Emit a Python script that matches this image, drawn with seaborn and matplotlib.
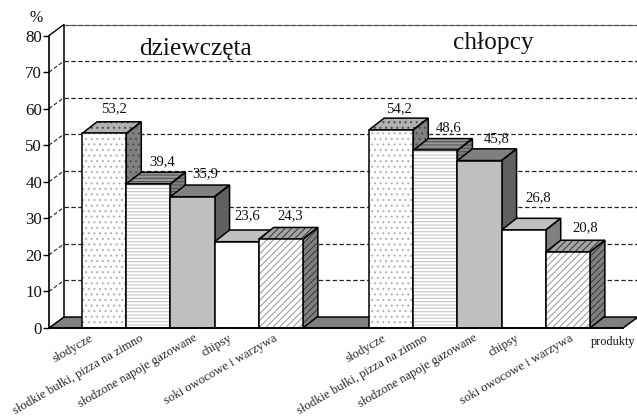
import pandas as pd
import matplotlib
matplotlib.use('Agg')
import matplotlib.pyplot as plt
from matplotlib.patches import Polygon, Rectangle
import seaborn as sns

# data
products = ['słodycze', 'słodkie bułki, pizza na zimno', 'słodzone napoje gazowane',
            'chipsy', 'soki owocowe i warzywa']
girls = [53.2, 39.4, 35.9, 23.6, 24.3]
boys = [54.2, 48.6, 45.8, 26.8, 20.8]
y_ticks = [0, 10, 20, 30, 40, 50, 60, 70, 80]
girls_x = [0, 1, 2, 3, 4]
boys_x = [6.5, 7.5, 8.5, 9.5, 10.5]

W, H = 637, 416
sns.set_theme(style='white')
plt.rcParams['font.family'] = ['Liberation Serif', 'DejaVu Serif']
plt.rcParams['hatch.linewidth'] = 0.8

df = pd.DataFrame({'x': girls_x + boys_x, 'value': girls + boys})

fig = plt.figure(figsize=(W / 100, H / 100), dpi=100, facecolor='white')
ax = fig.add_axes([49 / W, 1 - 328 / H, 574 / W, 292.5 / H])
sns.barplot(data=df, x='x', y='value', native_scale=True, width=1, color='white', ax=ax)
bars = list(ax.patches)

xmin, xmax = -1.25, 11.75
ax.set_xlim(xmin, xmax)
ax.set_ylim(0, 80)
ax.set_xlabel('')
ax.set_ylabel('')

# depth of the fake 3d, in data units
dx = 15 / 44.15
dy = 3.0
bar_dy = 3.2

# floor and back wall
ax.add_patch(Polygon([(xmin, 0), (xmax, 0), (xmax + dx, dy), (xmin + dx, dy)], closed=True,
                     facecolor='#7f7f7f', edgecolor='black', lw=1.1, clip_on=False, zorder=1))
ax.plot([xmin + dx, xmin + dx], [dy, 80 + dy], color='black', lw=1.1, clip_on=False, zorder=1)
for v in y_ticks[1:]:
    ax.plot([xmin + dx, xmax + dx], [v + dy, v + dy], color='#222222', lw=0.9, ls=(0, (3.5, 2)),
            clip_on=False, zorder=1)
    if v == 80:
        ax.plot([xmin, xmin + dx], [v, v + dy], color='black', lw=1, clip_on=False, zorder=1)
        ax.plot([xmin + dx, xmax + dx], [v + dy, v + dy], color='#555555', lw=0.7, clip_on=False, zorder=1)
    else:
        ax.plot([xmin, xmin + dx], [v, v + dy], color='#222222', lw=0.8, ls=(0, (3.5, 2)),
                clip_on=False, zorder=1)

# per product style: front, side, top colours and hatch
front_cols = ['white', 'white', '#bfbfbf', 'white', 'white']
side_cols = ['#808080', '#808080', '#606060', '#808080', '#808080']
top_cols = ['#b2b2b2', '#999999', '#808080', '#bfbfbf', '#a6a6a6']
hatches = ['...', '-----', None, None, '/////']
hatch_cols = ['#b4b4b4', '#c4c4c4', '#bfbfbf', 'white', '#a0a0a0']
side_hatch_cols = ['#505050', '#505050', '#606060', '#808080', '#404040']

z = 2
for i, bar in enumerate(bars):
    k = i % 5
    x0, x1, v = bar.get_x(), bar.get_x() + bar.get_width(), bar.get_height()
    side = Polygon([(x1, 0), (x1 + dx, bar_dy), (x1 + dx, v + bar_dy), (x1, v)], closed=True,
                   facecolor=side_cols[k], edgecolor=side_hatch_cols[k], hatch=hatches[k], lw=0, clip_on=False, zorder=z)
    top = Polygon([(x0, v), (x1, v), (x1 + dx, v + bar_dy), (x0 + dx, v + bar_dy)], closed=True,
                  facecolor=top_cols[k], edgecolor=side_hatch_cols[k], hatch=hatches[k], lw=0, clip_on=False, zorder=z)
    ax.add_patch(side)
    ax.add_patch(top)
    for p in (side, top):
        ax.add_patch(Polygon(p.get_xy(), closed=True, fill=False, edgecolor='black', lw=1.1,
                             clip_on=False, zorder=z + 0.1))
    bar.set(facecolor=front_cols[k], edgecolor=hatch_cols[k], hatch=hatches[k], lw=0, zorder=z + 0.2)
    ax.add_patch(Rectangle((x0, 0), x1 - x0, v, fill=False, edgecolor='black', lw=1.1, zorder=z + 0.3))
    z += 1

# value labels, offsets in pixels from the front top edge of the bar
label_dx = [10, 14, 13, 11, 9, 8, 13, 17, 15, 17]
label_dy = [25, 22, 22.6, 25.6, 23, 21.6, 23, 22, 32, 24]
for i, (px, v) in enumerate(zip(df['x'], df['value'])):
    ax.annotate(str(v).replace('.', ','), xy=(px, v), xytext=(label_dx[i], label_dy[i]),
                textcoords='offset pixels', ha='center', va='center', fontsize=10.6,
                color='#111111', annotation_clip=False, zorder=50)

# rotated product names as tick labels, shifted a little like in the original
shift_px = [-15, -9, 1, -8, -8, -9, -12, -6, -8, 1]
tick_pos = [p + s / 44.15 for p, s in zip(df['x'], shift_px)]
ax.set_xticks(tick_pos, products + products, rotation=30, ha='right', rotation_mode='anchor', fontsize=9.1)
ax.tick_params(axis='x', length=0, pad=3, bottom=False)
ax.set_yticks(y_ticks, [str(t) for t in y_ticks], fontsize=12.2)
ax.tick_params(axis='y', left=True, length=4, width=1, pad=1, color='black', labelcolor='#111111')

for s in ('top', 'right'):
    ax.spines[s].set_visible(False)
for s in ('left', 'bottom'):
    ax.spines[s].set_color('black')
    ax.spines[s].set_linewidth(1.2)
    ax.spines[s].set_zorder(40)

fig.text(36 / W, 1 - 18 / H, '%', ha='center', va='center', fontsize=11.5, color='#111111')
fig.text(195 / W, 1 - 49 / H, 'dziewczęta', ha='center', va='center', fontsize=18.3, color='#111111')
fig.text(493 / W, 1 - 43 / H, 'chłopcy', ha='center', va='center', fontsize=18.3, color='#111111')
fig.text(613 / W, 1 - 342.5 / H, 'produkty', ha='center', va='center', fontsize=8.8, color='#111111')

fig.savefig('out.png', dpi=100)
